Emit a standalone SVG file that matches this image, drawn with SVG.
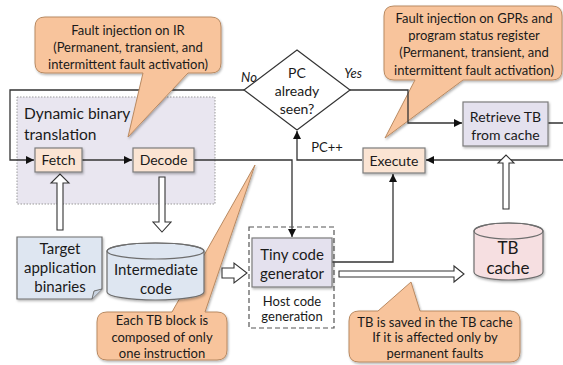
<svg xmlns="http://www.w3.org/2000/svg" width="563" height="365" viewBox="0 0 563 365">
<defs>
<marker id="ah" viewBox="0 0 10 10" refX="10" refY="5" markerWidth="8" markerHeight="8" markerUnits="userSpaceOnUse" orient="auto"><path d="M0,0 L10,5 L0,10 z" fill="#111"/></marker>
<filter id="sh" x="-10%" y="-10%" width="130%" height="130%"><feDropShadow dx="1" dy="1.5" stdDeviation="1" flood-color="#000" flood-opacity="0.3"/></filter>
</defs>
<style>
text{font-family:Lato,"Open Sans","Liberation Sans",sans-serif;fill:#1a1a1a;text-anchor:middle}
.t13{font-size:13px}
.t14{font-size:14px}
.t15{font-size:15px}
.call{fill:#f8c49c;stroke:#b98a62;stroke-width:1}
.peach{fill:#fbe4d3;stroke:#7d7d7d;stroke-width:1.2}
.lav{fill:#e4e1ee;stroke:#7d7d7d;stroke-width:1.2}
.blue{fill:#dee6f1;stroke:#6e6e6e;stroke-width:1.2}
.pink{fill:#f6dfe1;stroke:#6e6e6e;stroke-width:1.2}
.ln{fill:none;stroke:#333;stroke-width:1.3}
.hol{fill:#fff;stroke:#333;stroke-width:1.1}
</style>
<rect width="563" height="365" fill="#fff"/>

<g id="dbt">
<rect x="17" y="97" width="198" height="107" fill="#e9e6f0" stroke="#9a9a9a" stroke-width="1" stroke-dasharray="1.5,1.5"/>
<text x="24" y="119" style="font-size:15.5px;text-anchor:start">Dynamic binary</text>
<text x="24" y="140" style="font-size:15.5px;text-anchor:start">translation</text>
</g>

<g id="callout-gpr">
<path class="call" filter="url(#sh)" d="M394,6 H552 Q562,6 562,16 V70 Q562,80 552,80 H463 L385,138 L415,80 H394 Q384,80 384,70 V16 Q384,6 394,6 Z"/>
<text class="t13" x="474" y="23">Fault injection on GPRs and</text>
<text class="t13" x="474" y="40">program status register</text>
<text class="t13" x="474" y="57">(Permanent, transient, and</text>
<text class="t13" x="474" y="75">intermittent fault activation)</text>
</g>

<g id="callout-tb">
<path class="call" filter="url(#sh)" d="M107,312 H172 L255,165 L205,312 H217 Q227,312 227,322 V350 Q227,360 217,360 H107 Q97,360 97,350 V322 Q97,312 107,312 Z"/>
<text class="t13" x="162" y="325">Each TB block is</text>
<text class="t13" x="162" y="342">composed of only</text>
<text class="t13" x="162" y="358">one instruction</text>
</g>

<g id="callout-cache">
<path class="call" filter="url(#sh)" d="M359,311 H378 L411,282 L420,311 H510 Q520,311 520,321 V352 Q520,362 510,362 H359 Q349,362 349,352 V321 Q349,311 359,311 Z"/>
<text class="t13" x="435" y="327">TB is saved in the TB cache</text>
<text class="t13" x="435" y="342">If it is affected only by</text>
<text class="t13" x="435" y="358">permanent faults</text>
</g>

<g id="connectors">
<path class="ln" d="M244,90 H10 V160 H34" marker-end="url(#ah)"/>
<path class="ln" d="M82,160 H132" marker-end="url(#ah)"/>
<path class="ln" d="M194,160 H292 V237" marker-end="url(#ah)"/>
<path class="ln" d="M350,90 H408 V123 H462" marker-end="url(#ah)"/>
<path class="ln" d="M548,123 H570 V160 H426" marker-end="url(#ah)"/>
<path class="ln" d="M362,160 H297 V131" marker-end="url(#ah)"/>
<path class="ln" d="M332,262 H393 V174" marker-end="url(#ah)"/>
<polygon class="hol" points="57,230 57,183 51,183 60,174 69,183 63,183 63,230"/>
<polygon class="hol" points="159,177 159,222 153,222 162,232 171,222 165,222 165,177"/>
<polygon class="hol" points="222,268 234,268 234,263 247,273 234,283 234,278 222,278"/>
<polygon class="hol" points="339,271 454,271 454,266 464,274 454,282 454,277 339,277"/>
<polygon class="hol" points="503,209 503,163 498,163 506,155 514,163 509,163 509,209"/>
<text class="t13" x="249" y="82" style="font-style:italic">No</text>
<text class="t13" x="353" y="78" style="font-style:italic">Yes</text>
<text class="t13" x="327" y="152">PC++</text>
</g>

<g id="callout-ir">
<path class="call" filter="url(#sh)" d="M45,17 H211 Q221,17 221,27 V63 Q221,73 211,73 H188 L128,137 L143,73 H45 Q35,73 35,63 V27 Q35,17 45,17 Z"/>
<text class="t13" x="128" y="35">Fault injection on IR</text>
<text class="t13" x="128" y="52">(Permanent, transient, and</text>
<text class="t13" x="128" y="69">intermittent fault activation)</text>
</g>

<g id="diamond">
<polygon points="297,50 350,90 297,130 244,90" fill="#fff" stroke="#333" stroke-width="1.2"/>
<text class="t14" x="297" y="78">PC</text>
<text class="t14" x="297" y="96">already</text>
<text class="t14" x="297" y="114">seen?</text>
</g>

<g id="fetch">
<rect class="peach" filter="url(#sh)" x="35" y="148" width="47" height="24"/>
<text class="t14" x="58.5" y="165">Fetch</text>
</g>

<g id="decode">
<rect class="peach" filter="url(#sh)" x="133" y="148" width="61" height="24"/>
<text class="t14" x="163.5" y="165">Decode</text>
</g>

<g id="execute">
<rect class="peach" filter="url(#sh)" x="363" y="148" width="62" height="25"/>
<text class="t14" x="394" y="166">Execute</text>
</g>

<g id="retrieve">
<rect class="lav" filter="url(#sh)" x="463" y="102" width="85" height="44"/>
<text class="t14" x="505.5" y="122">Retrieve TB</text>
<text class="t14" x="505.5" y="140">from cache</text>
</g>

<g id="host">
<rect x="249" y="227" width="85" height="101" fill="none" stroke="#555" stroke-width="1.2" stroke-dasharray="5,3"/>
<rect class="lav" filter="url(#sh)" x="252" y="238" width="80" height="49"/>
<text class="t15" x="292" y="260">Tiny code</text>
<text class="t15" x="292" y="279">generator</text>
<text class="t13" x="292" y="306">Host code</text>
<text class="t13" x="292" y="321">generation</text>
</g>

<g id="target">
<path class="blue" filter="url(#sh)" d="M17,237 H102 V289 L92,299 H17 Z"/>
<path d="M92,299 L94,291 L102,289" fill="#c9d3e0" stroke="#6e6e6e" stroke-width="1"/>
<text class="t15" x="60" y="254">Target</text>
<text class="t15" x="60" y="273">application</text>
<text class="t15" x="60" y="292">binaries</text>
</g>

<g id="intermediate">
<path class="blue" filter="url(#sh)" d="M107,251 V292 A48.5,8 0 0 0 204,292 V251 A48.5,8 0 0 0 107,251 Z"/>
<ellipse cx="155.5" cy="251" rx="48.5" ry="8" fill="none" stroke="#6e6e6e" stroke-width="1.2"/>
<text class="t15" x="156" y="275">Intermediate</text>
<text class="t15" x="156" y="294">code</text>
</g>

<g id="tbcache">
<path class="pink" filter="url(#sh)" d="M474,231 V272 A34.5,8 0 0 0 543,272 V231 A34.5,8 0 0 0 474,231 Z"/>
<ellipse cx="508.5" cy="231" rx="34.5" ry="8" fill="none" stroke="#6e6e6e" stroke-width="1.2"/>
<text x="508" y="254" style="font-size:17px">TB</text>
<text x="508" y="274" style="font-size:17px">cache</text>
</g>
</svg>
